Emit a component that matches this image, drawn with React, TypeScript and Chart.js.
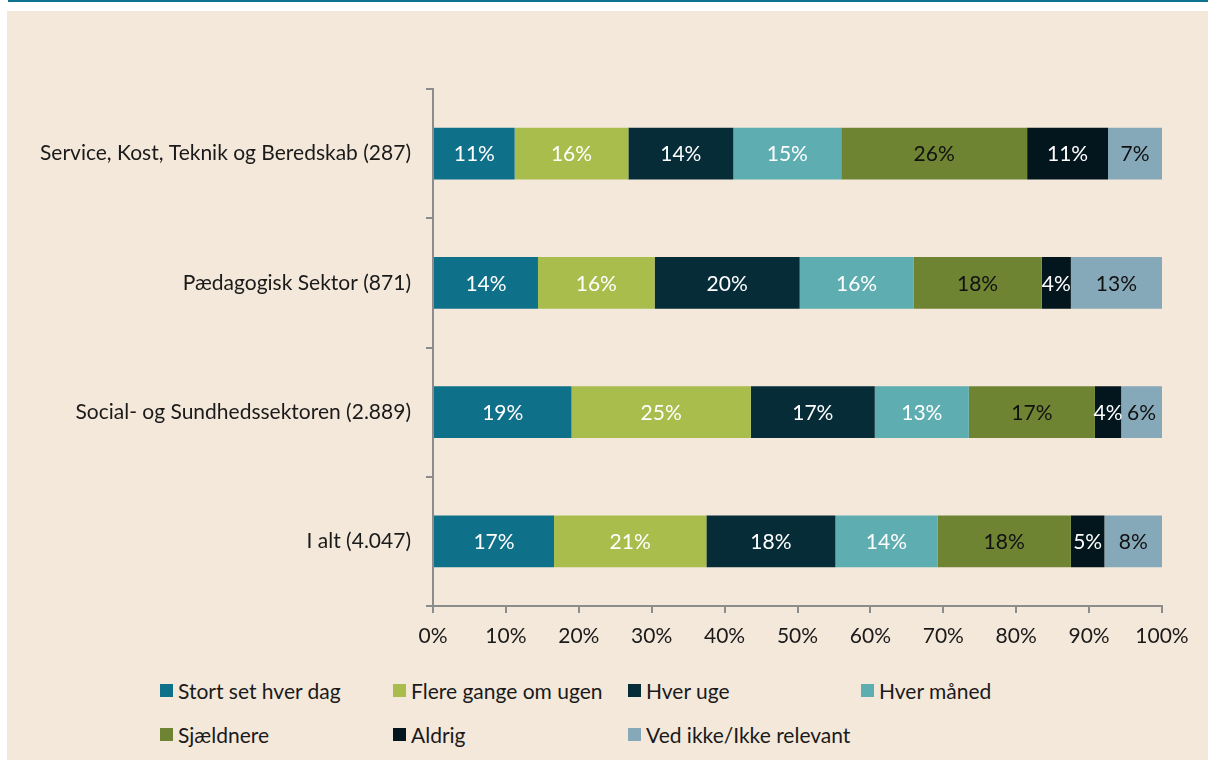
import React, { useEffect, useRef } from "react";
import { Chart, registerables } from "chart.js";

Chart.register(...registerables);

const categories = [
  "Service, Kost, Teknik og Beredskab (287)",
  "Pædagogisk Sektor (871)",
  "Social- og Sundhedssektoren (2.889)",
  "I alt (4.047)",
];

const seriesNames = [
  "Stort set hver dag",
  "Flere gange om ugen",
  "Hver uge",
  "Hver måned",
  "Sjældnere",
  "Aldrig",
  "Ved ikke/Ikke relevant",
];

const storstSetHverDag = [11.2, 14.4, 19.0, 16.6];
const flereGangeOmUgen = [15.6, 16.0, 24.6, 20.9];
const hverUge = [14.4, 19.9, 17.0, 17.7];
const hverMaaned = [14.8, 15.6, 12.9, 14.0];
const sjaeldnere = [25.5, 17.6, 17.3, 18.3];
const aldrig = [11.1, 4.0, 3.6, 4.6];
const vedIkke = [7.4, 12.5, 5.6, 7.9];

const seriesValues = [storstSetHverDag, flereGangeOmUgen, hverUge, hverMaaned, sjaeldnere, aldrig, vedIkke];
const seriesColors = ["#0f7089", "#a9bd4c", "#062c38", "#5eadb1", "#6f8433", "#03151d", "#86a9ba"];
const labelColors = ["#ffffff", "#ffffff", "#ffffff", "#ffffff", "#111111", "#ffffff", "#111111"];

const xTicks = [0, 10, 20, 30, 40, 50, 60, 70, 80, 90, 100];

const FONT = "Lato, 'Open Sans', sans-serif";
const FS = 21;

const valueLabelPlugin = {
  id: "valueLabels",
  afterDatasetsDraw(chart: any) {
    const ctx = chart.ctx;
    ctx.save();
    ctx.font = `${FS}px ${FONT}`;
    ctx.textAlign = "center";
    ctx.textBaseline = "middle";
    chart.data.datasets.forEach((ds: any, di: number) => {
      const meta = chart.getDatasetMeta(di);
      meta.data.forEach((bar: any, i: number) => {
        const v = ds.data[i];
        const cx = (bar.x + bar.base) / 2;
        ctx.fillStyle = labelColors[di];
        ctx.fillText(Math.round(v) + "%", cx, bar.y + 1);
      });
    });
    ctx.restore();
  },
};

export default function App() {
  const ref = useRef<HTMLCanvasElement>(null);
  useEffect(() => {
    document.body.style.margin = "0";
    const chart = new Chart(ref.current!, {
      type: "bar",
      data: {
        labels: categories,
        datasets: seriesNames.map((name, i) => ({
          label: name,
          data: seriesValues[i],
          backgroundColor: seriesColors[i],
          borderWidth: 0,
          barPercentage: 0.8,
          categoryPercentage: 0.5,
        })),
      },
      options: {
        indexAxis: "y",
        animation: false,
        responsive: false,
        maintainAspectRatio: false,
        layout: { padding: { top: 89, right: 46, left: 0, bottom: 0 } },
        plugins: { legend: { display: false }, tooltip: { enabled: false } },
        scales: {
          x: {
            stacked: true,
            min: 0,
            max: 100,
            afterFit: (s: any) => {
              s.height = 54;
            },
            afterBuildTicks: (s: any) => {
              s.ticks = xTicks.map((v) => ({ value: v }));
            },
            ticks: {
              callback: (v: any) => v + "%",
              color: "#1a1a1a",
              font: { size: FS, family: FONT },
              padding: 11,
              maxRotation: 0,
            },
            grid: { drawOnChartArea: false, drawTicks: true, tickLength: 7, color: "#8c8c8c", lineWidth: 2 },
            border: { display: true, color: "#8c8c8c", width: 2 },
          },
          y: {
            stacked: true,
            afterFit: (s: any) => {
              s.width = 433;
            },
            ticks: {
              color: "#1a1a1a",
              font: { size: FS, family: FONT },
              padding: 15,
            },
            grid: { drawOnChartArea: false, drawTicks: true, tickLength: 7, color: "#8c8c8c", lineWidth: 2, offset: true },
            border: { display: true, color: "#8c8c8c", width: 2 },
          },
        },
      },
      plugins: [valueLabelPlugin],
    });
    return () => chart.destroy();
  }, []);

  const legendCols = [160, 393, 628, 861];
  const legendRows = [690, 734];

  return (
    <div style={{ position: "absolute", left: 0, top: 0, width: 1208, height: 760, background: "#ffffff", overflow: "hidden" }}>
      <div style={{ position: "absolute", left: 8, top: 0, width: 1200, height: 2, background: "#0e7390" }} />
      <div style={{ position: "absolute", left: 7, top: 11, width: 1201, height: 749, background: "#f4e8db" }} />
      <canvas ref={ref} width={1208} height={660} style={{ position: "absolute", left: 0, top: 0, width: 1208, height: 660 }} />
      {seriesNames.map((name, i) => {
        const col = i % 4;
        const row = Math.floor(i / 4);
        return (
          <div
            key={name}
            style={{
              position: "absolute",
              left: legendCols[col],
              top: legendRows[row] - 14,
              height: 28,
              display: "flex",
              alignItems: "center",
              fontFamily: FONT,
              fontSize: FS,
              color: "#1a1a1a",
              whiteSpace: "nowrap",
            }}
          >
            <span style={{ display: "inline-block", width: 13, height: 13, background: seriesColors[i], marginRight: 5 }} />
            <span>{name}</span>
          </div>
        );
      })}
    </div>
  );
}
